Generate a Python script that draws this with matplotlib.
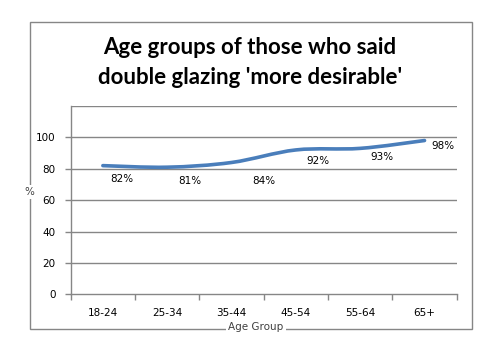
import matplotlib
matplotlib.use("Agg")
import matplotlib.pyplot as plt
from matplotlib.patches import Rectangle, PathPatch
from matplotlib.path import Path
import numpy as np

age_groups = ["18-24", "25-34", "35-44", "45-54", "55-64", "65+"]
percent_more_desirable = [82, 81, 84, 92, 93, 98]
point_labels = ["82%", "81%", "84%", "92%", "93%", "98%"]
y_ticks = [0, 20, 40, 60, 80, 100]

# label placement offsets in pixels (dx, dy)
label_offsets = [(19, -13), (23, -14), (32, -19), (22, -11), (22, -9), (18, -5)]

W, H = 500, 350
fig = plt.figure(figsize=(W / 100, H / 100), dpi=100)
fig.patch.set_facecolor("white")

grid_col = "#868686"

# outer chart border
fig.patches.append(Rectangle((29.5 / W, 1 - 328.5 / H), 442 / W, 307 / H,
                             transform=fig.transFigure, fill=False,
                             edgecolor=grid_col, linewidth=1.0, zorder=0))

ax = fig.add_axes([70.7 / W, 1 - 294.3 / H, 386 / W, 188.3 / H])
ax.set_facecolor("none")
ax.set_xlim(-0.5, len(age_groups) - 0.5)
ax.set_ylim(0, 120)

for s in ["top", "right"]:
    ax.spines[s].set_visible(False)
for s in ["left", "bottom"]:
    ax.spines[s].set_color(grid_col)
    ax.spines[s].set_linewidth(1.0)

for v in [20, 40, 60, 80, 100, 120]:
    ax.axhline(v, color=grid_col, linewidth=1.0, zorder=1)

ax.set_yticks(y_ticks)
ax.set_yticklabels([str(v) for v in y_ticks])
ax.tick_params(axis="y", direction="out", length=4, width=1, color=grid_col,
               pad=7, labelsize=7.5, labelcolor="black")

x = np.arange(len(age_groups))
ax.set_xticks(np.arange(-0.5, len(age_groups)), labels=[""] * (len(age_groups) + 1))
ax.set_xticks(x, labels=age_groups, minor=True)
ax.tick_params(axis="x", which="major", direction="out", length=4, width=1, color=grid_col)
ax.tick_params(axis="x", which="minor", length=0, pad=10, labelsize=7.5, labelcolor="black")

# smoothed line (Catmull-Rom converted to cubic Bezier segments)
y = np.array(percent_more_desirable, dtype=float)
pts = np.column_stack([x, y])
verts = [tuple(pts[0])]
codes = [Path.MOVETO]
n = len(pts)
for i in range(n - 1):
    p0 = pts[i - 1] if i > 0 else pts[i]
    p1 = pts[i]
    p2 = pts[i + 1]
    p3 = pts[i + 2] if i + 2 < n else pts[i + 1]
    c1 = p1 + (p2 - p0) / 6.0
    c2 = p2 - (p3 - p1) / 6.0
    verts += [tuple(c1), tuple(c2), tuple(p2)]
    codes += [Path.CURVE4] * 3
ax.add_patch(PathPatch(Path(verts, codes), facecolor="none", edgecolor="#4A7EBB",
                       linewidth=2.6, capstyle="round", zorder=3))

for xi, yi, lab, (dx, dy) in zip(x, percent_more_desirable, point_labels, label_offsets):
    ax.annotate(lab, (xi, yi), xytext=(dx, dy), textcoords="offset pixels",
                ha="center", va="center", fontsize=7.5, color="black", zorder=4)

# title
fig.text(250 / W, 1 - 48 / H, "Age groups of those who said", ha="center", va="center",
         fontsize=16, fontweight="bold", family="Lato", color="black")
fig.text(250 / W, 1 - 78 / H, "double glazing 'more desirable'", ha="center", va="center",
         fontsize=16, fontweight="bold", family="Lato", color="black")

# axis titles sitting on the chart border
fig.text(29.5 / W, 1 - 192 / H, "%", ha="center", va="center", fontsize=7.5,
         color="#404040", bbox=dict(facecolor="white", edgecolor="none", pad=1.5))
fig.text(256 / W, 1 - 327 / H, "Age Group", ha="center", va="center", fontsize=7.5,
         color="#404040", bbox=dict(facecolor="white", edgecolor="none", pad=1.5))

fig.savefig("out.png", dpi=100, facecolor="white")
